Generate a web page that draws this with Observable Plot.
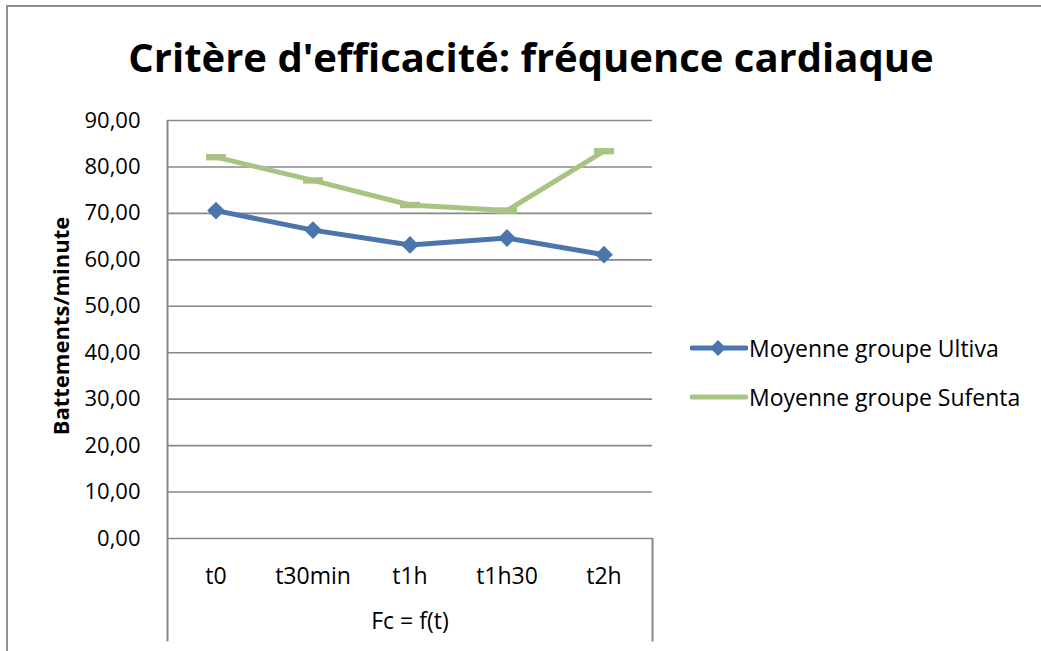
<!DOCTYPE html>
<html>
<head>
<meta charset="utf-8">
<script src="https://cdn.jsdelivr.net/npm/d3@7"></script>
<script src="https://cdn.jsdelivr.net/npm/@observablehq/plot@0.6"></script>
<style>
  html, body { margin: 0; padding: 0; background: #fff; }
  body { width: 1041px; height: 651px; overflow: hidden; position: relative; font-family: "Open Sans", sans-serif; color: #000; }
  #frame { position: absolute; left: 6px; top: 5px; width: 1200px; height: 800px; border-top: 2px solid #8e8e8e; border-left: 2px solid #8e8e8e; }
  #chart { position: absolute; left: 0; top: 0; }
  #title { position: absolute; left: 0; width: 1062px; top: 29px; text-align: center; font-weight: bold; font-size: 40px; line-height: 56px; white-space: nowrap; }
  #ytitle { position: absolute; left: 60px; top: 326px; transform: translate(-50%, -50%) rotate(-90deg); font-weight: bold; font-size: 22px; white-space: nowrap; }
  #xtitle { position: absolute; left: 410px; top: 620px; transform: translate(-50%, -50%); font-size: 23px; white-space: nowrap; }
  #legend { position: absolute; left: 690px; top: 333px; }
  .item { display: flex; align-items: center; height: 30px; margin-bottom: 19px; font-size: 23px; white-space: nowrap; }
  .item svg { margin-right: 1px; }
</style>
</head>
<body>
<div id="frame"></div>
<div id="chart"></div>
<div id="title">Critère d'efficacité: fréquence cardiaque</div>
<div id="ytitle">Battements/minute</div>
<div id="xtitle">Fc = f(t)</div>
<div id="legend"></div>
<script>
// ---- data ----
const categories = ["t0", "t30min", "t1h", "t1h30", "t2h"];
const ultiva = [70.6, 66.4, 63.2, 64.7, 61.1];
const sufenta = [82.1, 77.1, 71.8, 70.6, 83.4];
const seriesNames = ["Moyenne groupe Ultiva", "Moyenne groupe Sufenta"];
const yTicks = [0, 10, 20, 30, 40, 50, 60, 70, 80, 90];

// ---- styles ----
const colors = ["#4a76ad", "#a8c482"];
const gridColor = "#888888";

const rows = [];
categories.forEach((c, i) => {
  rows.push({ i, series: seriesNames[0], v: ultiva[i] });
  rows.push({ i, series: seriesNames[1], v: sufenta[i] });
});
const ultivaRows = rows.filter(d => d.series === seriesNames[0]);
const sufentaRows = rows.filter(d => d.series === seriesNames[1]);

const dash = {
  draw(context, size) {
    const r = Math.sqrt(size / Math.PI);
    context.rect(-r * 1.25, -r * 0.4, r * 2.5, r * 0.8);
  }
};

const n = categories.length;
const bottomExt = -22.3; // category-axis box extends below the value axis

const chart = Plot.plot({
  width: 1041,
  height: 651,
  marginLeft: 167,
  marginRight: 389,
  marginTop: 120,
  marginBottom: 113,
  style: { fontFamily: "Open Sans", fontSize: "22px", color: "#000", background: "transparent", overflow: "visible" },
  x: { type: "linear", domain: [-0.5, n - 0.5], axis: null },
  y: { domain: [0, 90], axis: null },
  color: { domain: seriesNames, range: colors },
  marks: [
    Plot.ruleY(yTicks, { stroke: gridColor, strokeWidth: 1.6 }),
    Plot.ruleX([-0.5], { y1: bottomExt, y2: 90, stroke: gridColor, strokeWidth: 2 }),
    Plot.ruleX([n - 0.5], { y1: bottomExt, y2: 0, stroke: gridColor, strokeWidth: 2 }),
    Plot.axisY({ ticks: yTicks, tickSize: 0, tickPadding: 27, label: null, tickFormat: d => d.toFixed(2).replace(".", ","), fontSize: 22 }),
    Plot.axisX({ ticks: d3.range(n), tickSize: 0, tickPadding: 29, label: null, tickFormat: i => categories[i], fontSize: 23 }),
    Plot.line(rows, { x: "i", y: "v", z: "series", stroke: "series", strokeWidth: 5, strokeLinejoin: "round", strokeLinecap: "butt" }),
    Plot.dot(ultivaRows, { x: "i", y: "v", symbol: "diamond2", r: 8, fill: "series", stroke: "none" }),
    Plot.dot(sufentaRows, { x: "i", y: "v", symbol: dash, r: 8, fill: "series", stroke: "none" })
  ]
});
document.getElementById("chart").appendChild(chart);

// ---- legend ----
const legend = document.getElementById("legend");
seriesNames.forEach((name, k) => {
  const item = document.createElement("div");
  item.className = "item";
  const marker = k === 0
    ? `<path d="M28,6 L36,14 L28,22 L20,14 Z" fill="${colors[k]}"/>`
    : "";
  item.innerHTML = `<svg width="58" height="28"><line x1="2" y1="14" x2="56" y2="14" stroke="${colors[k]}" stroke-width="5" stroke-linecap="round"/>${marker}</svg><span>${name}</span>`;
  legend.appendChild(item);
});
</script>
</body>
</html>
